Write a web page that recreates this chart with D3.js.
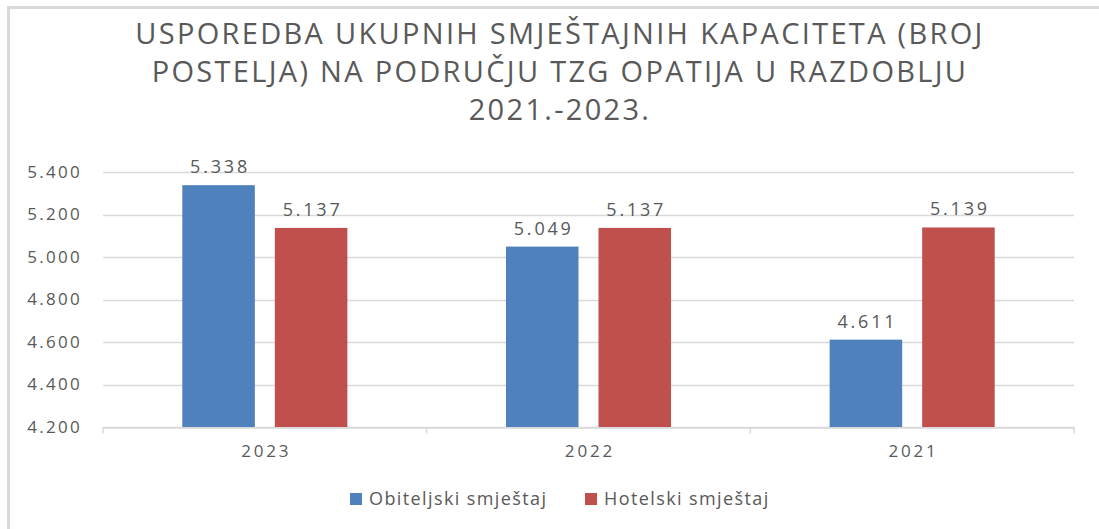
<!DOCTYPE html>
<html>
<head>
<meta charset="utf-8">
<script src="https://cdn.jsdelivr.net/npm/d3@7"></script>
<style>
  body { margin: 0; background: #fff; }
  text { font-family: "Open Sans", sans-serif; fill: #595959; }
</style>
</head>
<body>
<script>
const width = 1099, height = 529;

// data
const years = ["2023", "2022", "2021"];
const seriesNames = ["Obiteljski smještaj", "Hotelski smještaj"];
const obiteljski = [5338, 5049, 4611];
const hotelski = [5137, 5137, 5139];
const yTicks = [4200, 4400, 4600, 4800, 5000, 5200, 5400];
const titleLines = [
  "USPOREDBA UKUPNIH SMJEŠTAJNIH KAPACITETA (BROJ",
  "POSTELJA) NA PODRUČJU TZG OPATIJA U RAZDOBLJU",
  "2021.-2023."
];
const colors = ["#4f81bd", "#c0504d"];

const rows = years.map((y, i) => ({year: y, values: [obiteljski[i], hotelski[i]]}));

const fmt = v => d3.format(",.3f")(v / 1000).replace(",", "");

const margin = {top: 172, right: 25, bottom: 102, left: 103};

const svg = d3.select("body").append("svg")
    .attr("width", width)
    .attr("height", height);

svg.append("rect").attr("width", width).attr("height", height).attr("fill", "#fff");

// frame (only left and top edges visible in the crop)
svg.append("path")
    .attr("d", `M8.5,${height} V7.5 H${width}`)
    .attr("fill", "none")
    .attr("stroke", "#d9d9d9")
    .attr("stroke-width", 3);

const x0 = d3.scaleBand()
    .domain(years)
    .range([margin.left, width - margin.right])
    .paddingInner(0.49)
    .paddingOuter(0.245);

const x1 = d3.scaleBand()
    .domain(d3.range(seriesNames.length))
    .range([0, x0.bandwidth()])
    .paddingInner(0.216);

const y = d3.scaleLinear()
    .domain([4200, 5400])
    .range([height - margin.bottom, margin.top]);

// gridlines
svg.append("g")
  .selectAll("line")
  .data(yTicks)
  .join("line")
    .attr("x1", margin.left)
    .attr("x2", width - margin.right)
    .attr("y1", d => Math.round(y(d)) + 0.5)
    .attr("y2", d => Math.round(y(d)) + 0.5)
    .attr("stroke", "#d9d9d9")
    .attr("stroke-width", 1.5);

// y axis labels
const yAxis = svg.append("g")
    .attr("transform", `translate(${margin.left},0)`)
    .call(d3.axisLeft(y).tickValues(yTicks).tickFormat(fmt).tickSize(0).tickPadding(21));
yAxis.select(".domain").remove();
yAxis.selectAll("text").style("font-size", "17px").attr("fill", "#595959")
    .style("font-family", "Open Sans, sans-serif").attr("letter-spacing", 2.3);

// bars
const group = svg.append("g")
  .selectAll("g")
  .data(rows)
  .join("g")
    .attr("transform", d => `translate(${x0(d.year)},0)`);

group.selectAll("rect")
  .data(d => d.values.map((v, i) => ({v, i})))
  .join("rect")
    .attr("x", d => x1(d.i))
    .attr("width", x1.bandwidth())
    .attr("y", d => y(d.v))
    .attr("height", d => y(4200) - y(d.v))
    .attr("fill", d => colors[d.i]);

group.selectAll("text.val")
  .data(d => d.values.map((v, i) => ({v, i})))
  .join("text")
    .attr("class", "val")
    .attr("x", d => x1(d.i) + x1.bandwidth() / 2 + 1.5)
    .attr("y", d => y(d.v) - 12)
    .attr("text-anchor", "middle")
    .style("font-size", "18px")
    .attr("letter-spacing", 2.8)
    .text(d => fmt(d.v));

// x axis
const xAxis = svg.append("g")
    .attr("transform", `translate(0,${Math.round(y(4200)) + 0.5})`)
    .call(d3.axisBottom(x0).tickSize(0).tickPadding(17));
xAxis.select(".domain").attr("stroke", "#d9d9d9").attr("stroke-width", 1.5);
xAxis.selectAll("text").style("font-size", "17px").attr("fill", "#595959")
    .style("font-family", "Open Sans, sans-serif").attr("letter-spacing", 2.8)
    .attr("dx", 1.4);

// category boundary ticks
const bounds = years.map(yy => x0(yy) - x0.step() * x0.paddingOuter());
bounds.push(width - margin.right);
xAxis.append("g").selectAll("line")
  .data(bounds)
  .join("line")
    .attr("x1", d => d).attr("x2", d => d)
    .attr("y1", 0).attr("y2", 6)
    .attr("stroke", "#d9d9d9")
    .attr("stroke-width", 1.5);

// title
const title = svg.append("g");
title.selectAll("text")
  .data(titleLines)
  .join("text")
    .attr("x", 560)
    .attr("y", (d, i) => 44 + i * 38)
    .attr("text-anchor", "middle")
    .style("font-size", "29px")
    .attr("letter-spacing", 2.3)
    .text(d => d);

// legend
const legend = svg.append("g").attr("transform", "translate(350,498)");
const legendX = [0, 235];
const items = legend.selectAll("g")
  .data(seriesNames)
  .join("g")
    .attr("transform", (d, i) => `translate(${legendX[i]},0)`);
items.append("rect")
    .attr("y", -5)
    .attr("width", 12)
    .attr("height", 12)
    .attr("fill", (d, i) => colors[i]);
items.append("text")
    .attr("x", 19)
    .attr("y", 7)
    .style("font-size", "18px")
    .attr("letter-spacing", 1.4)
    .text(d => d);
</script>
</body>
</html>
